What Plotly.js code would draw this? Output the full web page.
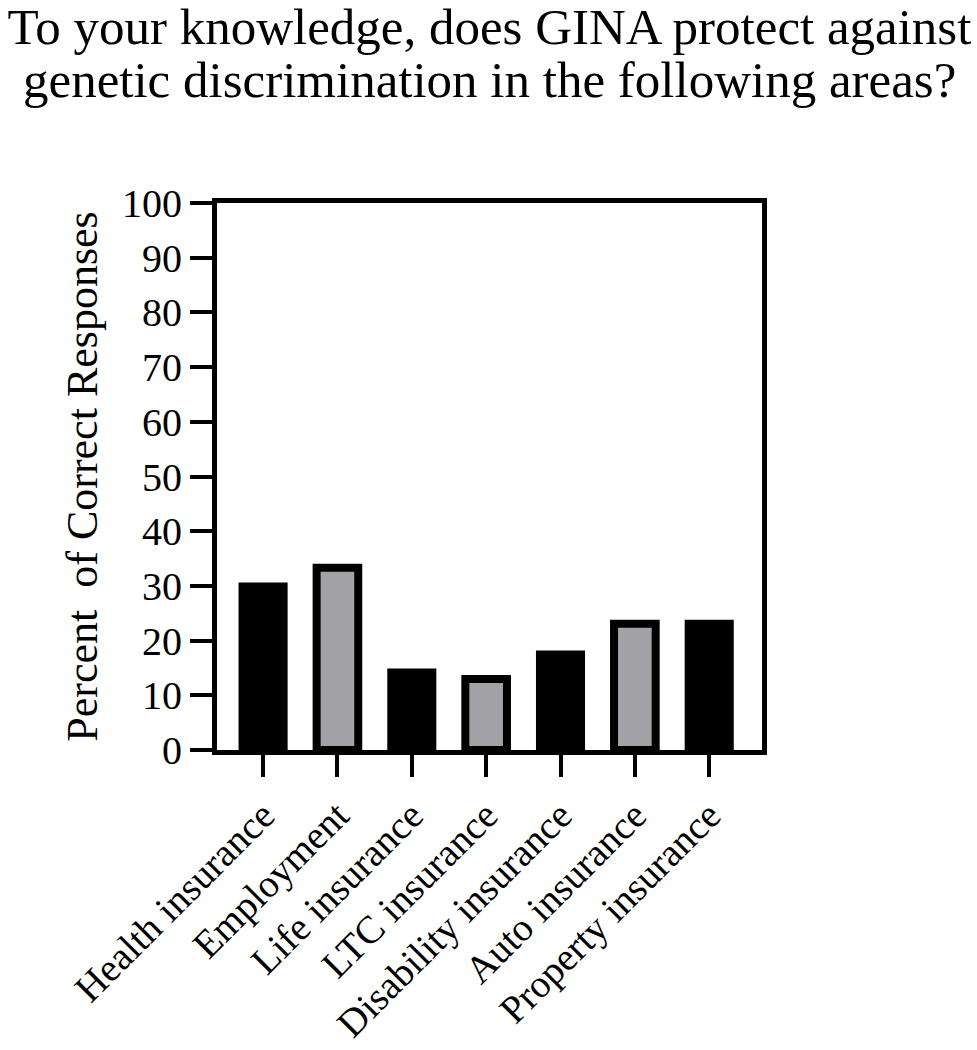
<!DOCTYPE html>
<html>
<head>
<meta charset="utf-8">
<script src="https://cdn.plot.ly/plotly-3.0.1.min.js"></script>
<style>
  html, body { margin: 0; padding: 0; background: #fff; }
  #chart { width: 977px; height: 1050px; }
</style>
</head>
<body>
<div id="chart"></div>
<script>
// values (percent of correct responses)
const categories = [
  "Health insurance",
  "Employment",
  "Life insurance",
  "LTC insurance",
  "Disability insurance",
  "Auto insurance",
  "Property insurance",
];
const percentCorrect = [30.6, 33.3, 14.9, 13.0, 18.2, 23.1, 23.8];
// categories drawn as grey bars with a black outline
const shaded = ["Employment", "LTC insurance", "Auto insurance"];

const titleLines = [
  "To your knowledge, does GINA protect against",
  "genetic discrimination in the following areas?",
];

const FONT = "Liberation Serif, Times New Roman, serif";

const solidX = [], solidY = [], greyX = [], greyY = [];
categories.forEach((c, i) => {
  if (shaded.includes(c)) {
    greyX.push(c);
    greyY.push(percentCorrect[i]);
  } else {
    solidX.push(c);
    solidY.push(percentCorrect[i]);
  }
});

const traces = [
  {
    type: "bar",
    x: solidX,
    y: solidY,
    width: 0.66,
    marker: { color: "#000", line: { width: 0 } },
    hoverinfo: "x+y",
  },
  {
    type: "bar",
    x: greyX,
    y: greyY,
    width: 0.56,
    marker: { color: "#a2a1a6", line: { color: "#000", width: 8 } },
    hoverinfo: "x+y",
  },
];

const layout = {
  width: 977,
  height: 1050,
  margin: { t: 203, b: 300, l: 217, r: 215, pad: 0 },
  paper_bgcolor: "#fff",
  plot_bgcolor: "#fff",
  showlegend: false,
  barmode: "overlay",
  font: { family: FONT, color: "#000" },
  // first title line as the layout title, second as an annotation so the
  // line spacing can follow the original
  title: {
    text: titleLines[0],
    font: { family: FONT, size: 51, color: "#000" },
    x: 0.5,
    xanchor: "center",
    xref: "paper",
    yref: "container",
    y: 0.9755,
    yanchor: "middle",
  },
  annotations: [
    {
      text: titleLines[1],
      font: { family: FONT, size: 51, color: "#000" },
      xref: "paper",
      yref: "paper",
      x: 0.5,
      y: 1.2254,
      xanchor: "center",
      yanchor: "middle",
      showarrow: false,
    },
  ],
  xaxis: {
    type: "category",
    categoryorder: "array",
    categoryarray: categories,
    range: [-0.62, 6.71],
    showline: true,
    linecolor: "#000",
    linewidth: 5,
    mirror: true,
    showgrid: false,
    zeroline: false,
    ticks: "outside",
    ticklen: 22,
    tickwidth: 4,
    tickcolor: "#000",
    tickangle: -45,
    tickfont: { family: FONT, size: 39, color: "#000" },
    automargin: false,
    fixedrange: true,
  },
  yaxis: {
    range: [0, 100],
    tickmode: "linear",
    tick0: 0,
    dtick: 10,
    showline: true,
    linecolor: "#000",
    linewidth: 5,
    mirror: true,
    showgrid: false,
    zeroline: false,
    ticks: "outside",
    ticklen: 22,
    tickwidth: 4,
    tickcolor: "#000",
    tickfont: { family: FONT, size: 40, color: "#000" },
    title: {
      text: "Percent&nbsp; of Correct Responses",
      font: { family: FONT, size: 44, color: "#000" },
      standoff: 12,
    },
    automargin: false,
    fixedrange: true,
  },
};

const config = { responsive: false, displayModeBar: false, staticPlot: true };

Plotly.newPlot("chart", traces, layout, config);
</script>
</body>
</html>
